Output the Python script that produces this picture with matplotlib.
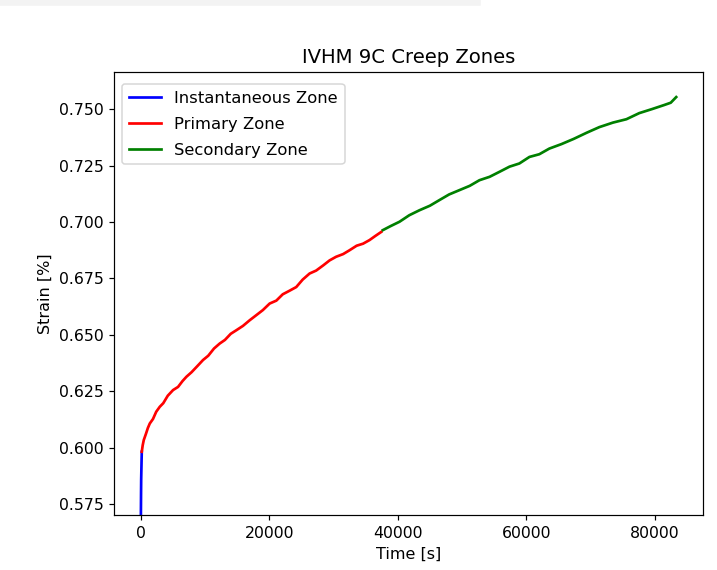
import matplotlib
matplotlib.use("Agg")
import matplotlib.pyplot as plt
from matplotlib.patches import Rectangle

# Creep test IVHM 9C: time [s] vs strain [%] split into zones
inst_time = [0, 0, 20, 40, 60, 90, 120, 155]
inst_strain = [0.540, 0.560, 0.572, 0.580, 0.586, 0.590, 0.594, 0.5983]

primary_time = [155, 300, 467, 800, 1100, 1400, 1900, 2400, 2955, 3500, 4200,
                5023, 5800, 6500, 7107, 7900, 8800, 9688, 10500, 11400, 12285,
                13100, 14000, 14880, 15900, 16950, 18000, 19000, 20060, 21100,
                22100, 23170, 24200, 25200, 26280, 27300, 28400, 29390, 30400,
                31500, 32500, 33600, 34600, 35610, 36500, 37430]
primary_strain = [0.5983, 0.6012, 0.6035, 0.6062, 0.6088, 0.6108, 0.6128, 0.6160,
                  0.6182, 0.6198, 0.6231, 0.6256, 0.6270, 0.6296, 0.6315, 0.6335,
                  0.6362, 0.6389, 0.6408, 0.6440, 0.6462, 0.6478, 0.6505, 0.6521,
                  0.6540, 0.6565, 0.6588, 0.6610, 0.6639, 0.6652, 0.6680, 0.6696,
                  0.6712, 0.6745, 0.6772, 0.6785, 0.6808, 0.6830, 0.6846, 0.6858,
                  0.6875, 0.6895, 0.6904, 0.6920, 0.6938, 0.6956]

secondary_time = [37680, 38900, 40270, 41800, 43380, 45000, 46490, 48000, 49600,
                  51200, 52720, 54300, 55830, 57400, 58930, 60500, 62040, 63600,
                  65500, 67400, 69400, 71380, 73500, 75600, 77600, 79600, 81500,
                  82500, 83350]
secondary_strain = [0.6964, 0.6982, 0.7001, 0.7030, 0.7052, 0.7072, 0.7097, 0.7122,
                    0.7141, 0.7160, 0.7185, 0.7200, 0.7222, 0.7245, 0.7259, 0.7288,
                    0.7300, 0.7325, 0.7345, 0.7368, 0.7395, 0.7420, 0.7440, 0.7455,
                    0.7482, 0.7500, 0.7518, 0.7528, 0.7553]

DPI = 108
fig = plt.figure(figsize=(717 / DPI, 570 / DPI), dpi=DPI)
ax = fig.add_axes([114 / 717, 55 / 570, 589 / 717, 443 / 570])

ax.plot(inst_time, inst_strain, color="blue", lw=1.8, label="Instantaneous Zone")
ax.plot(primary_time, primary_strain, color="red", lw=1.8, label="Primary Zone")
ax.plot(secondary_time, secondary_strain, color="green", lw=1.8, label="Secondary Zone")

ax.set_xlim(-4170, 87520)
ax.set_ylim(0.5703, 0.7664)
ax.set_xticks([0, 20000, 40000, 60000, 80000])
ax.set_yticks([0.575, 0.600, 0.625, 0.650, 0.675, 0.700, 0.725, 0.750])
ax.tick_params(labelsize=10.5)

ax.set_title("IVHM 9C Creep Zones", fontsize=13.1, pad=6)
ax.set_xlabel("Time [s]", fontsize=10.7)
ax.set_ylabel("Strain [%]", fontsize=10.7)
ax.legend(loc="upper left", fontsize=10.9, labelspacing=0.68,
          bbox_to_anchor=(0, 1 - 4 / 443))

# thin light strip along the top edge
fig.patches.append(Rectangle((0, 1 - 5 / 570), 480 / 717, 5 / 570,
                             transform=fig.transFigure, color="#f3f3f3", zorder=0))

fig.savefig("out.png", dpi=DPI)
